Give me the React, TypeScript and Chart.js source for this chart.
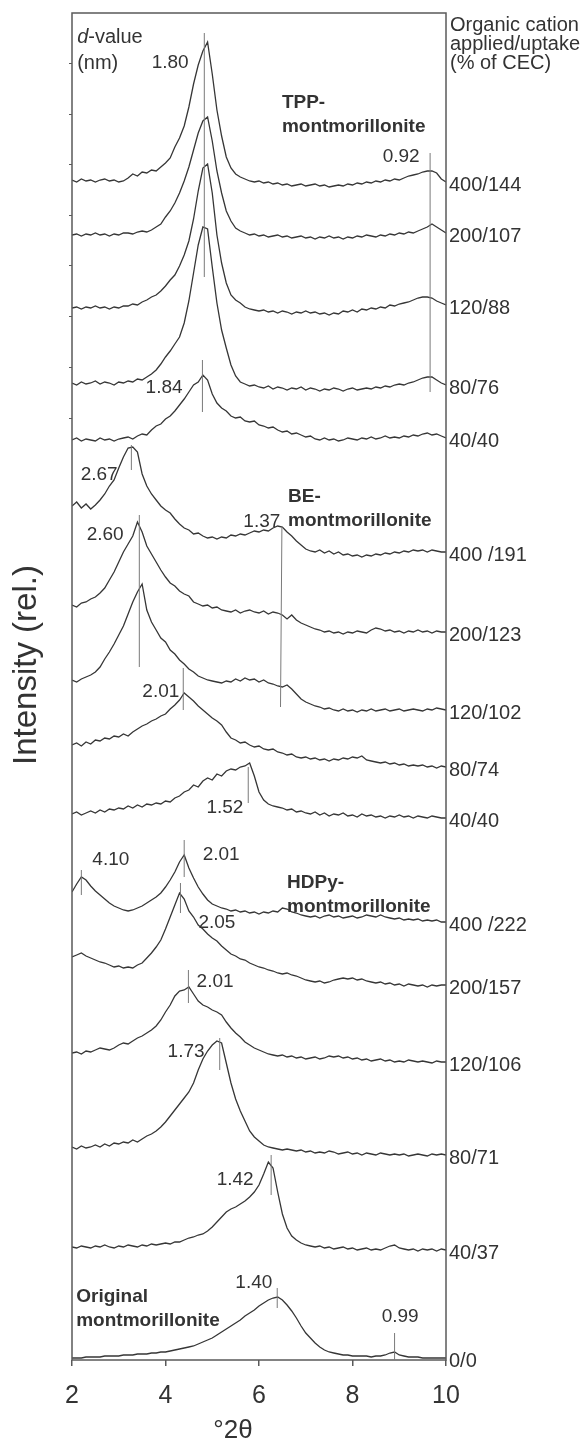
import React, { useEffect, useRef } from 'react';
import { Chart, registerables } from 'chart.js';

Chart.register(...registerables);

const FONT = '"Liberation Sans", Arial, Helvetica, sans-serif';
const INK = '#333333';

// °2θ sampling positions
const twoTheta = [
  2.0, 2.1, 2.2, 2.3, 2.4, 2.5, 2.6, 2.7, 2.8, 2.9,
  3.0, 3.1, 3.2, 3.3, 3.4, 3.5, 3.6, 3.7, 3.8, 3.9,
  4.0, 4.1, 4.2, 4.3, 4.4, 4.5, 4.6, 4.7, 4.8, 4.9,
  5.0, 5.1, 5.2, 5.3, 5.4, 5.5, 5.6, 5.7, 5.8, 5.9,
  6.0, 6.1, 6.2, 6.3, 6.4, 6.5, 6.6, 6.7, 6.8, 6.9,
  7.0, 7.1, 7.2, 7.3, 7.4, 7.5, 7.6, 7.7, 7.8, 7.9,
  8.0, 8.1, 8.2, 8.3, 8.4, 8.5, 8.6, 8.7, 8.8, 8.9,
  9.0, 9.1, 9.2, 9.3, 9.4, 9.5, 9.6, 9.7, 9.8, 9.9,
  10.0,
];

// Intensities (rel.) above each pattern's own baseline
const tpp400 = [
  2, 0, 3, 1, 2, 0, 2, 3, 1, 2,
  0, 1, 4, 8, 6, 10, 9, 12, 11, 15,
  19, 24, 35, 44, 56, 75, 98, 117, 131, 140,
  108, 72, 46, 25, 14, 8, 5, 3, 1, 0,
  1, -1, 0, -2, -1, -3, -2, -4, -3, -2,
  -4, -3, -2, -4, -3, -5, -4, -3, -4, -2,
  -3, -1, -2, 0, -1, 1, 0, 2, 1, 3,
  2, 4, 6, 7, 8, 10, 11, 11, 9, 3,
  0,
];
const tpp200 = [
  -2, -1, -3, -1, -2, 0, -2, -1, -3, -1,
  -2, 0, 0, -1, 1, 2, 1, 3, 6, 9,
  16, 22, 30, 40, 52, 66, 83, 100, 112, 116,
  92, 62, 40, 22, 12, 5, 2, 0, -2, -1,
  -3, -2, -4, -3, -2, -4, -3, -5, -4, -3,
  -5, -4, -6, -4, -5, -3, -5, -4, -6, -4,
  -5, -3, -4, -2, -3, -4, -2, -3, -1, -2,
  0, -1, 1, 0, 2, 4, 6, 9, 6, 3,
  0,
];
const tpp120 = [
  -3, -2, -4, -2, -3, -1, -3, -2, -4, -2,
  -3, -1, -1, 1, 0, 3, 5, 8, 10, 14,
  19, 25, 30, 39, 50, 64, 86, 114, 137, 141,
  112, 70, 42, 22, 10, 5, 2, -2, -4, -5,
  -6, -5, -7, -6, -8, -6, -7, -9, -7, -8,
  -6, -8, -7, -9, -8, -10, -8, -9, -6, -7,
  -5, -7, -4, -5, -3, -4, -2, -3, 0, -1,
  1, 2, 3, 5, 7, 8, 8, 7, 4, 2,
  0,
];
const tpp80 = [
  2, 0, 3, 1, 2, 4, 1, 3, 2, 0,
  3, 2, 4, 3, 6, 5, 8, 11, 15, 21,
  28, 34, 41, 48, 62, 84, 112, 140, 158, 156,
  118, 82, 55, 37, 20, 9, 3, 1, -1, 0,
  -2, -3, -1, -4, -2, -3, -5, -3, -4, -2,
  -5, -3, -4, -6, -4, -5, -3, -4, -6, -4,
  -3, -5, -4, -3, -4, -2, -3, -1, -2, 0,
  1, 0, 2, 3, 5, 7, 8, 8, 5, 2,
  0,
];
const tpp40 = [
  -2, 0, -3, -1, -2, -3, 0, -2, -1, -3,
  -1, 0, 1, -1, 2, 4, 3, 8, 12, 14,
  19, 22, 27, 33, 39, 46, 53, 56, 63, 58,
  44, 35, 30, 27, 22, 20, 21, 17, 16, 17,
  13, 12, 10, 11, 8, 6, 7, 4, 5, 3,
  1, 2, -1, -2, 0, -2, -1, -3, -2, 0,
  -1, -2, 0, -1, 1, -1, 0, 2, 0, 1,
  0, 2, 1, 3, 2, 4, 5, 3, 4, 2,
  0,
];
const be400 = [
  46, 50, 44, 48, 43, 47, 52, 58, 66, 72,
  84, 95, 104, 105, 100, 78, 66, 58, 52, 46,
  42, 39, 33, 28, 24, 22, 18, 19, 16, 14,
  15, 13, 15, 14, 17, 16, 18, 17, 19, 21,
  20, 22, 21, 24, 26, 25, 20, 16, 11, 7,
  3, 1, 0, 2, -1, 1, -2, 0, -3, -2,
  -4, -3, -5, -3, -4, -2, -3, -1, -2, 0,
  -1, 1, 0, 2, 1, 2, 0, 2, 1, 0,
  0,
];
const be200 = [
  27, 25, 29, 30, 33, 35, 39, 44, 52, 60,
  70, 80, 88, 96, 110, 100, 86, 78, 70, 62,
  55, 49, 46, 41, 38, 36, 30, 28, 26, 27,
  24, 25, 22, 21, 20, 22, 19, 21, 22, 20,
  19, 21, 18, 20, 19, 17, 13, 17, 12, 9,
  7, 5, 3, 2, 0, 1, -1, 0, -2, 0,
  -1, 1, 0, -1, 2, 4, 3, 1, 2, 0,
  1, -1, 1, 0, 2, 0, 1, -1, 1, 0,
  0,
];
const be120 = [
  30, 28, 31, 33, 35, 38, 43, 51, 58, 66,
  75, 84, 96, 108, 118, 126, 100, 88, 80, 72,
  68, 60, 56, 50, 46, 41, 38, 34, 32, 30,
  29, 28, 27, 29, 28, 31, 29, 32, 30, 31,
  28, 30, 27, 26, 24, 23, 25, 21, 16, 11,
  8, 6, 4, 3, 1, 2, 0, -1, 1, -1,
  0, -2, 0, -1, 1, -1, 0, 1, -1, 0,
  1, -1, 0, 1, 0, -1, 1, 0, 2, 1,
  0,
];
const be80 = [
  22, 24, 21, 25, 23, 27, 26, 29, 28, 31,
  30, 33, 31, 35, 38, 41, 43, 46, 48, 51,
  53, 58, 62, 67, 74, 70, 66, 61, 57, 53,
  49, 46, 42, 35, 29, 27, 24, 25, 22, 20,
  21, 18, 17, 18, 15, 14, 12, 13, 10, 9,
  10, 8, 9, 7, 8, 6, 8, 7, 9, 8,
  10, 9, 11, 7, 6, 5, 4, 5, 3, 4,
  2, 3, 1, 2, 1, 2, 0, 1, -1, 1,
  0,
];
const be40 = [
  4, 6, 3, 5, 7, 5, 8, 6, 9, 8,
  10, 9, 12, 10, 13, 11, 14, 13, 15, 14,
  17, 16, 20, 22, 26, 28, 33, 31, 37, 40,
  38, 44, 42, 47, 49, 48, 51, 52, 55, 42,
  26, 18, 14, 12, 11, 10, 8, 9, 6, 7,
  5, 4, 6, 3, 5, 2, 4, 3, 5, 2,
  3, 1, 4, 2, 3, 1, 2, 0, 2, 1,
  3, 1, 2, 0, 2, 1, 0, 2, 1, 0,
  0,
];
const hd400 = [
  30, 38, 45, 42, 36, 31, 27, 23, 19, 16,
  14, 12, 11, 12, 14, 16, 19, 22, 25, 29,
  35, 42, 50, 60, 67, 54, 44, 35, 28, 22,
  18, 16, 14, 13, 11, 12, 10, 11, 9, 10,
  8, 10, 9, 11, 10, 14, 13, 10, 9, 7,
  6, 5, 6, 4, 6, 7, 5, 6, 4, 5,
  6, 4, 5, 7, 6, 5, 7, 5, 4, 3,
  4, 2, 3, 2, 3, 1, 2, 1, 2, 0,
  0,
];
const hd200 = [
  28, 30, 32, 29, 27, 25, 23, 22, 20, 18,
  19, 17, 18, 17, 20, 22, 27, 32, 38, 45,
  56, 68, 80, 92, 86, 74, 68, 60, 56, 51,
  47, 44, 39, 35, 31, 29, 26, 25, 22, 20,
  18, 17, 15, 14, 12, 11, 12, 10, 9, 7,
  5, 4, 3, 4, 2, 3, 5, 6, 7, 6,
  7, 5, 6, 4, 3, 2, 3, 1, 2, 0,
  1, -1, 1, 0, -1, 0, -2, 0, -1, 0,
  0,
];
const hd120 = [
  9, 10, 8, 11, 10, 12, 14, 13, 12, 14,
  17, 19, 18, 21, 24, 26, 29, 32, 36, 42,
  50, 57, 66, 71, 72, 75, 68, 61, 57, 55,
  52, 50, 47, 40, 34, 29, 25, 20, 17, 14,
  12, 10, 8, 7, 6, 7, 5, 6, 4, 5,
  3, 4, 5, 3, 4, 6, 5, 6, 4, 5,
  3, 4, 2, 3, 1, 2, 3, 1, 2, 0,
  1, 0, 2, 1, 0, 1, 0, -1, 1, 0,
  0,
];
const hd80 = [
  8, 6, 9, 7, 8, 10, 8, 11, 9, 12,
  11, 13, 12, 15, 13, 16, 19, 21, 24, 28,
  33, 39, 45, 51, 57, 63, 72, 85, 96, 104,
  110, 114, 112, 92, 72, 56, 44, 34, 24, 18,
  14, 10, 8, 7, 6, 5, 6, 5, 4, 5,
  3, 4, 2, 3, 2, 4, 3, 1, 2, 3,
  1, 2, 0, 2, 1, 0, 2, 1, 0, 1,
  0, 1, -1, 0, 1, 0, -1, 1, 0, 1,
  0,
];
const hd40 = [
  3, 2, 4, 3, 2, 4, 3, 5, 3, 2,
  4, 3, 5, 4, 3, 5, 4, 6, 5, 6,
  7, 6, 8, 8, 10, 12, 13, 15, 16, 19,
  23, 28, 33, 38, 41, 43, 46, 49, 53, 58,
  65, 76, 88, 82, 58, 36, 22, 14, 10, 7,
  5, 4, 3, 4, 2, 3, 1, 2, 3, 1,
  2, 0, 1, 2, 0, 1, 0, 2, 4, 5,
  2, 1, 0, 1, -1, 1, 0, 1, -1, 1,
  0,
];
const original = [
  0, 0, 0, 1, 1, 1, 1, 2, 2, 2,
  2, 3, 3, 3, 4, 4, 4, 5, 5, 6,
  6, 7, 8, 9, 10, 11, 12, 14, 16, 18,
  20, 23, 26, 29, 32, 35, 38, 42, 45, 48,
  52, 55, 58, 60, 61, 58, 53, 47, 40, 32,
  25, 20, 15, 11, 8, 6, 5, 4, 3, 3,
  2, 2, 2, 2, 1, 2, 2, 3, 5, 6,
  3, 2, 1, 1, 1, 0, 0, 0, 0, 0,
  0,
];

const patterns = [
  tpp400, tpp200, tpp120, tpp80, tpp40,
  be400, be200, be120, be80, be40,
  hd400, hd200, hd120, hd80, hd40,
  original,
];

// stacking offsets (rel. intensity units) of each pattern
const baselines = [1178, 1127, 1055, 975, 922, 808, 728, 650, 593, 542, 438, 375, 298, 205, 110, 2];

// organic cation applied/uptake (% of CEC)
const sampleLabels = [
  '400/144', '200/107', '120/88', '80/76', '40/40',
  '400 /191', '200/123', '120/102', '80/74', '40/40',
  '400 /222', '200/157', '120/106', '80/71', '40/37',
  '0/0',
];

// d-value reference lines (°2θ, top and bottom level)
const markerThetaTop = [4.83, 9.66, 4.79, 3.27, 3.44, 6.49, 4.38, 5.77, 2.2, 4.40, 4.32, 4.49, 5.16, 6.26, 6.39, 8.9];
const markerThetaBottom = [4.83, 9.66, 4.79, 3.27, 3.44, 6.46, 4.38, 5.77, 2.2, 4.40, 4.32, 4.49, 5.16, 6.26, 6.39, 8.9];
const markerTop = [1327, 1207, 1000, 915, 845, 833, 692, 593, 490, 520, 477, 390, 322, 205, 72, 27];
const markerBottom = [1083, 968, 948, 890, 693, 653, 650, 557, 465, 483, 447, 357, 290, 165, 52, 0];

// d-value labels (nm)
const dValueText = ['1.80', '0.92', '1.84', '2.67', '1.37', '2.60', '2.01', '1.52', '4.10', '2.01', '2.05', '2.01', '1.73', '1.42', '1.40', '0.99'];
const dValueTheta = [4.10, 9.04, 3.97, 2.58, 6.06, 2.71, 3.90, 5.27, 2.83, 5.19, 5.10, 5.06, 4.44, 5.49, 5.89, 9.02];
const dValueLevel = [1297, 1203, 972, 885, 838, 825, 668, 552, 500, 505, 437, 378, 308, 180, 77, 43];

// group names
const groupFirst = ['TPP-', 'BE-', 'HDPy-', 'Original'];
const groupSecond = ['montmorillonite', 'montmorillonite', 'montmorillonite', 'montmorillonite'];
const groupTheta = [6.49, 6.62, 6.60, 2.09];
const groupLevel = [1257, 863, 477, 63];

// short marks on the left frame
const leftTickLevels = [1297, 1246, 1196, 1145, 1095, 1044, 993, 942];

const headerLines = ['Organic cation', 'applied/uptake', '(% of CEC)'];

const annotate = {
  id: 'annotate',
  afterDraw(chart: any) {
    const { ctx, chartArea: a, scales } = chart;
    const x = scales.x;
    const y = scales.y;
    ctx.save();

    // frame
    ctx.strokeStyle = '#5a5a5a';
    ctx.lineWidth = 1.5;
    ctx.strokeRect(a.left, a.top, a.right - a.left, a.bottom - a.top);

    // small left ticks
    ctx.lineWidth = 1;
    leftTickLevels.forEach((v) => {
      const py = Math.round(y.getPixelForValue(v)) + 0.5;
      ctx.beginPath();
      ctx.moveTo(a.left - 3, py);
      ctx.lineTo(a.left, py);
      ctx.stroke();
    });

    // d-value marker lines
    ctx.strokeStyle = '#7a7a7a';
    ctx.lineWidth = 1;
    markerTop.forEach((top, i) => {
      ctx.beginPath();
      ctx.moveTo(x.getPixelForValue(markerThetaTop[i]), y.getPixelForValue(top));
      ctx.lineTo(x.getPixelForValue(markerThetaBottom[i]), y.getPixelForValue(markerBottom[i]));
      ctx.stroke();
    });

    ctx.fillStyle = INK;
    ctx.textBaseline = 'middle';

    // d-value labels
    ctx.font = `19px ${FONT}`;
    ctx.textAlign = 'center';
    dValueText.forEach((t, i) => {
      ctx.fillText(t, x.getPixelForValue(dValueTheta[i]), y.getPixelForValue(dValueLevel[i]));
    });

    // group labels
    ctx.font = `bold 19px ${FONT}`;
    ctx.textAlign = 'left';
    groupFirst.forEach((t, i) => {
      const px = x.getPixelForValue(groupTheta[i]);
      const py = y.getPixelForValue(groupLevel[i]);
      ctx.fillText(t, px, py);
      ctx.fillText(groupSecond[i], px, py + 24);
    });

    // "d-value (nm)"
    const dvx = x.getPixelForValue(2.11);
    const dvy = y.getPixelForValue(1323);
    ctx.font = `italic 20px ${FONT}`;
    ctx.fillText('d', dvx, dvy);
    const dw = ctx.measureText('d').width;
    ctx.font = `20px ${FONT}`;
    ctx.fillText('-value', dvx + dw, dvy);
    ctx.fillText('(nm)', dvx, y.getPixelForValue(1297));

    // right-hand sample labels
    ctx.font = `20px ${FONT}`;
    sampleLabels.forEach((t, i) => {
      ctx.fillText(t, a.right + 3, y.getPixelForValue(baselines[i]) + 3);
    });

    // header
    headerLines.forEach((t, i) => {
      ctx.fillText(t, a.right + 4, a.top + 12 + i * 19);
    });

    // y title
    ctx.save();
    ctx.translate(27, 665);
    ctx.rotate(-Math.PI / 2);
    ctx.textAlign = 'center';
    ctx.font = `33px ${FONT}`;
    ctx.fillText('Intensity (rel.)', 0, 0);
    ctx.restore();

    // x title
    ctx.textAlign = 'center';
    ctx.font = `26px ${FONT}`;
    ctx.fillText('°2θ', 233, a.bottom + 71);

    ctx.restore();
  },
};

export default function App() {
  const canvasRef = useRef<HTMLCanvasElement | null>(null);

  useEffect(() => {
    const canvas = canvasRef.current;
    if (!canvas) return;
    const datasets = patterns.map((vals, k) => ({
      label: sampleLabels[k],
      data: twoTheta.map((t, i) => ({ x: t, y: baselines[k] + vals[i] })),
      borderColor: '#363636',
      borderWidth: 1.3,
      pointRadius: 0,
      fill: false,
      tension: 0,
    }));
    const chart = new Chart(canvas, {
      type: 'line',
      data: { datasets },
      options: {
        animation: false,
        responsive: false,
        devicePixelRatio: 1,
        layout: { padding: { top: 13, right: 138, left: 0, bottom: 0 } },
        plugins: { legend: { display: false }, tooltip: { enabled: false } },
        scales: {
          x: {
            type: 'linear',
            min: 2,
            max: 10,
            afterFit: (s: any) => {
              s.height = 82;
            },
            ticks: {
              stepSize: 2,
              color: INK,
              font: { family: FONT, size: 25 },
              padding: 15,
              maxRotation: 0,
            },
            grid: {
              display: true,
              drawOnChartArea: false,
              drawTicks: true,
              tickLength: 6,
              color: '#5a5a5a',
              lineWidth: 1.5,
            },
            border: { display: false },
          },
          y: {
            type: 'linear',
            min: 0,
            max: 1347,
            afterFit: (s: any) => {
              s.width = 72;
            },
            ticks: { display: false },
            grid: { display: false },
            border: { display: false },
          },
        },
      } as any,
      plugins: [annotate],
    });
    return () => chart.destroy();
  }, []);

  return (
    <div style={{ position: 'absolute', left: 0, top: 0, width: 584, height: 1442, background: '#fff' }}>
      <canvas ref={canvasRef} width={584} height={1442} style={{ display: 'block' }} />
    </div>
  );
}
